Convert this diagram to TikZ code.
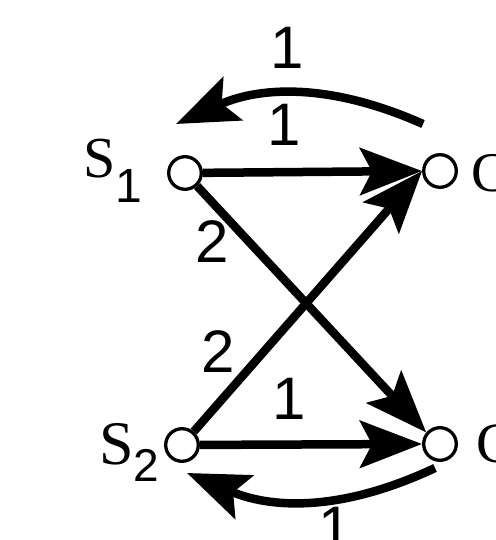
\documentclass[tikz,border=0pt]{standalone}
\usepackage{fontspec}
\setmainfont{Liberation Serif}
\newfontfamily\labelsans{Liberation Sans}
\usetikzlibrary{arrows.meta}

\begin{document}
\begin{tikzpicture}[
  x=1pt, y=1pt,
  vertex/.style={circle, draw, line width=3.3pt, fill=white, minimum size=32.6pt, inner sep=0pt},
  arr/.style={line width=8.5pt, -{Stealth[length=62pt, width=47pt, inset=12pt]}},
  wlabel/.style={font=\labelsans\fontsize{60}{60}\selectfont, inner sep=0pt},
  namelbl/.style={anchor=base west, inner sep=0pt}
]
  \useasboundingbox (0,0) rectangle (495,540);

  \node[vertex] (s1) at (185,367) {};
  \node[vertex] (c1) at (440,369) {};
  \node[vertex] (s2) at (182,95) {};
  \node[vertex] (c2) at (440,96) {};

  \node[namelbl, font=\fontsize{58}{58}\selectfont] (s1name) at (83,362)
    {S\lower25pt\hbox{\labelsans\fontsize{48}{48}\selectfont 1}};
  \node[namelbl, font=\fontsize{62}{62}\selectfont] (s2name) at (99,75)
    {S\lower17pt\hbox{\labelsans\fontsize{46}{46}\selectfont 2}};
  \node[namelbl, font=\fontsize{56}{56}\selectfont] (c1name) at (471,348) {C};
  \node[namelbl, font=\fontsize{57}{57}\selectfont] (c2name) at (476,77) {C};

  \draw[arr] (s1) -- node[wlabel, pos=0.37, above=22pt] {1} (c1.west);
  \draw[arr] (s2) -- node[wlabel, pos=0.40, above=21pt] {1} (c2.west);
  \draw[arr] (s1) -- node[wlabel, pos=0.15, xshift=-19pt, yshift=-18pt] {2} (c2.140);
  \draw[arr] (s2) -- node[wlabel, pos=0.22, xshift=-26pt, yshift=23pt] {2} (c1.west);

  \draw[arr] ([shift={(-17,47)}]c1.center) to[bend right=24]
    node[wlabel, pos=0.55, above=22pt] {1} ([shift={(-9,49)}]s1.center);
  \draw[arr] ([shift={(-5,-24)}]c2.center) to[bend left=24]
    node[wlabel, pos=0.4, below=5pt] {1} ([shift={(5,-28)}]s2.center);
\end{tikzpicture}
\end{document}
